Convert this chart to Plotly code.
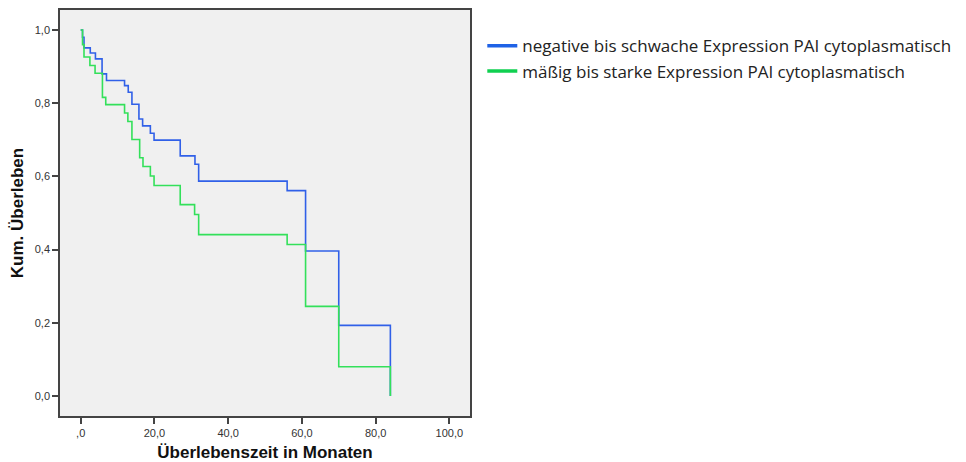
import plotly.graph_objects as go

# Kaplan-Meier step data (months, cumulative survival)
blue_t = [0, 0.5, 0.9, 2.6, 4.0, 5.8, 7.0, 11.9, 12.9, 13.9, 15.8, 16.8, 18.9, 19.9, 27.0, 31.0, 32.0, 56.0, 61.0, 70.0, 84.0]
blue_s = [1.0, 0.98, 0.951, 0.937, 0.921, 0.880, 0.862, 0.848, 0.830, 0.797, 0.757, 0.738, 0.718, 0.699, 0.656, 0.633, 0.587, 0.561, 0.396, 0.193, 0.0]

green_t = [0, 0.5, 0.9, 2.5, 3.9, 5.9, 6.8, 11.9, 12.8, 13.9, 16.0, 16.9, 18.9, 19.9, 27.0, 30.9, 32.0, 56.0, 61.0, 70.0, 84.0]
green_s = [1.0, 0.96, 0.926, 0.903, 0.882, 0.816, 0.796, 0.773, 0.750, 0.701, 0.651, 0.627, 0.601, 0.575, 0.523, 0.496, 0.441, 0.414, 0.245, 0.080, 0.0]

names = ["negative bis schwache Expression PAI cytoplasmatisch",
         "mäßig bis starke Expression PAI cytoplasmatisch"]

x_tickvals = [0, 20, 40, 60, 80, 100]
x_ticktext = [",0", "20,0", "40,0", "60,0", "80,0", "100,0"]
y_tickvals = [0, 0.2, 0.4, 0.6, 0.8, 1.0]
y_ticktext = ["0,0", "0,2", "0,4", "0,6", "0,8", "1,0"]

BLUE = "#3060e8"
GREEN = "#33e05a"
LEG_BLUE = "#1f62e6"
LEG_GREEN = "#10d050"

fig = go.Figure()
fig.add_trace(go.Scatter(x=blue_t, y=blue_s, mode="lines", line=dict(color=BLUE, width=1.6, shape="hv"),
                         showlegend=False, hoverinfo="skip"))
fig.add_trace(go.Scatter(x=green_t, y=green_s, mode="lines", line=dict(color=GREEN, width=1.6, shape="hv"),
                         showlegend=False, hoverinfo="skip"))
# legend entries
fig.add_trace(go.Scatter(x=[None], y=[None], mode="lines", line=dict(color=LEG_BLUE, width=3.5), name=names[0]))
fig.add_trace(go.Scatter(x=[None], y=[None], mode="lines", line=dict(color=LEG_GREEN, width=3.5), name=names[1]))

fig.update_layout(
    width=966, height=462,
    margin=dict(l=60, r=496, t=10, b=46),
    paper_bgcolor="white",
    plot_bgcolor="#f0f0f0",
    font=dict(family="Liberation Sans, Arial, sans-serif", color="#333333"),
    legend=dict(x=1.03, y=0.955, xanchor="left", yanchor="top",
                font=dict(family="Open Sans, Lato, sans-serif", size=17, color="#222222"),
                itemwidth=30, tracegroupgap=0, bgcolor="rgba(0,0,0,0)"),
)
fig.update_xaxes(
    range=[-5.61, 105.6], tickvals=x_tickvals, ticktext=x_ticktext,
    showgrid=False, zeroline=False, automargin=False,
    showline=True, mirror=True, linecolor="#444444", linewidth=1.5,
    ticks="outside", ticklen=6, tickcolor="#444444", tickwidth=1.5,
    tickfont=dict(size=11, color="#333333"),
    title=dict(text="<b>Überlebenszeit in Monaten</b>", font=dict(size=17, color="#111111"), standoff=12),
)
fig.update_yaxes(
    range=[-0.0546, 1.0546], tickvals=y_tickvals, ticktext=y_ticktext,
    showgrid=False, zeroline=False, automargin=False,
    showline=True, mirror=True, linecolor="#444444", linewidth=1.5,
    ticks="outside", ticklen=6, tickcolor="#444444", tickwidth=1.5,
    tickfont=dict(size=11, color="#333333"),
    title=dict(text="<b>Kum. Überleben</b>", font=dict(size=17, color="#111111"), standoff=7),
)

fig.write_html("out.html")
